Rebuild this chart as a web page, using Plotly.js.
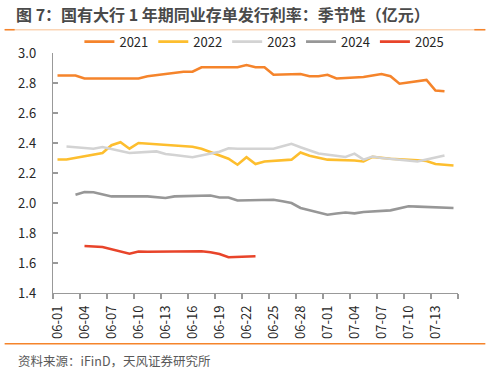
<!DOCTYPE html>
<html>
<head>
<meta charset="utf-8">
<script src="https://cdn.plot.ly/plotly-3.0.1.min.js"></script>
<style>html,body{margin:0;padding:0;background:#fff;}#chart{width:490px;height:372px;}</style>
</head>
<body>
<div id="chart"></div>
<script>
// Category labels (calendar days)
const dates = ["06-01","06-02","06-03","06-04","06-05","06-06","06-07","06-08","06-09","06-10",
  "06-11","06-12","06-13","06-14","06-15","06-16","06-17","06-18","06-19","06-20",
  "06-21","06-22","06-23","06-24","06-25","06-26","06-27","06-28","06-29","06-30",
  "07-01","07-02","07-03","07-04","07-05","07-06","07-07","07-08","07-09","07-10",
  "07-11","07-12","07-13","07-14","07-15"];

const y2021 = [2.85,2.85,2.85,2.83,null,null,2.83,2.83,2.83,2.83,
  2.845,null,null,null,2.875,2.875,2.905,2.905,null,null,
  2.905,2.92,2.905,2.905,2.855,null,null,2.86,2.845,2.845,
  2.855,2.83,null,null,2.84,2.85,2.86,2.845,2.795,null,
  null,2.82,2.75,2.745,null];

const y2022 = [2.29,2.29,null,null,null,2.333,2.385,2.405,2.362,2.40,
  null,null,2.39,2.385,2.383,2.375,2.362,null,null,2.295,
  2.255,2.305,2.26,2.277,null,null,2.289,2.337,2.315,2.30,
  2.289,null,null,2.283,2.277,2.307,2.30,2.295,null,null,
  2.285,2.28,2.26,2.255,2.25];

const y2023 = [null,2.377,null,null,2.362,2.373,2.36,2.345,2.333,null,
  null,2.344,2.327,2.32,2.313,2.305,null,null,2.342,2.365,
  2.362,null,null,null,2.362,2.378,2.395,2.372,2.35,2.33,
  null,null,2.307,2.329,2.289,2.31,2.30,null,null,2.285,
  2.277,2.29,2.303,2.317,null];

const y2024 = [null,null,2.055,2.073,2.072,2.058,2.044,null,null,null,
  2.044,2.038,2.033,2.044,null,null,2.045,2.05,2.037,2.037,
  2.017,null,null,2.02,2.022,2.012,2.0,1.967,null,null,
  1.922,1.93,1.937,1.931,1.94,null,null,1.951,1.965,1.978,
  1.976,1.973,null,null,1.967];

const y2025 = [null,null,null,1.713,1.71,1.707,null,null,1.662,1.677,
  1.675,1.675,1.676,null,null,1.68,1.678,1.672,1.66,1.638,
  null,null,1.645,null,null,null,null,null,null,null,
  null,null,null,null,null,null,null,null,null,null,
  null,null,null,null,null];

const seriesNames = ["2021","2022","2023","2024","2025"];
const seriesData = [y2021,y2022,y2023,y2024,y2025];
const seriesColors = ["#F5842B","#FDBE2E","#D3D3D3","#979797","#E8442A"];

const idx = dates.map((d,i)=>i);
const FONT = "Noto Sans CJK SC, Noto Sans, sans-serif";

const traces = seriesData.map((ys,k)=>({
  type:"scatter", mode:"lines", name:seriesNames[k],
  x: idx, y: ys, connectgaps:true,
  line:{color:seriesColors[k], width:2.6},
  xaxis:"x", yaxis:"y", hoverinfo:"skip"
}));

// Tick positions
const boundaryTicks = [];
for (let b=-0.5; b<=dates.length-0.5+1e-9; b+=3) boundaryTicks.push(b);
const labelTicks = [], labelText = [];
for (let i=0;i<dates.length;i+=3){ labelTicks.push(i); labelText.push(dates[i]); }

// Geometry
const W=490,H=372, mL=53.3, mR=32.3, mT=53.3, mB=78.7;
const pw = W-mL-mR, ph = H-mT-mB;
const px = v => (v-mL)/pw;
const py = v => (H-mB-v)/ph;

const layout = {
  width:W, height:H,
  margin:{l:mL,r:mR,t:mT,b:mB,pad:0},
  paper_bgcolor:"#fff", plot_bgcolor:"#fff",
  font:{family:FONT, size:13, color:"#262626"},
  showlegend:true,
  legend:{orientation:"h", x:0.522, xanchor:"center", y:py(42), yanchor:"middle",
    font:{size:13,color:"#262626"}, bgcolor:"rgba(0,0,0,0)", itemwidth:30},
  title:{text:"图 7：国有大行 1 年期同业存单发行利率：季节性（亿元）",
    xref:"container", x:16/W, xanchor:"left", yref:"container", y:1-15/H, yanchor:"middle",
    font:{family:FONT, size:16, color:"#4a4a4a", weight:"bold"}},
  xaxis:{range:[-0.5,dates.length-0.5], tickmode:"array", tickvals:boundaryTicks,
    showticklabels:false, ticks:"outside", ticklen:5, tickcolor:"#999", tickwidth:1.2,
    showline:true, linecolor:"#999", linewidth:1.3, showgrid:false, zeroline:false, fixedrange:true},
  xaxis2:{overlaying:"x", anchor:"y", side:"bottom", range:[-0.5,dates.length-0.5],
    tickmode:"array", tickvals:labelTicks, ticktext:labelText, tickangle:-90, ticks:"",
    showline:false, showgrid:false, zeroline:false, tickfont:{size:13,color:"#262626"},
    ticklabelstandoff:9},
  yaxis:{range:[1.4,3.0], dtick:0.2, tick0:1.4, tickformat:".1f", ticks:"inside", ticklen:5,
    tickcolor:"#999", tickwidth:1.2, showline:true, linecolor:"#999", linewidth:1.3,
    showgrid:false, zeroline:false, tickfont:{size:13,color:"#262626"}, ticklabelstandoff:13},
  shapes:[
    {type:"line", xref:"paper", yref:"paper", x0:px(5), x1:px(485), y0:py(30), y1:py(30),
      line:{color:"#FBD5B5", width:1.5}},
    {type:"line", xref:"paper", yref:"paper", x0:px(5), x1:px(15), y0:py(30), y1:py(30),
      line:{color:"#F5842B", width:1.5}},
    {type:"line", xref:"paper", yref:"paper", x0:px(474), x1:px(485), y0:py(30), y1:py(30),
      line:{color:"#F5842B", width:1.5}},
    {type:"line", xref:"paper", yref:"paper", x0:px(5), x1:px(485), y0:py(344), y1:py(344),
      line:{color:"#F5842B", width:1.5}}
  ],
  annotations:[
    {text:"资料来源：iFinD，天风证券研究所", xref:"paper", yref:"paper", x:px(16), y:py(361),
      xanchor:"left", yanchor:"middle", showarrow:false, font:{size:12.5,color:"#595959",family:FONT}}
  ]
};

// dummy trace to activate xaxis2
traces.push({type:"scatter", mode:"lines", x:[0], y:[null], xaxis:"x2", yaxis:"y",
  showlegend:false, hoverinfo:"skip"});

Plotly.newPlot("chart", traces, layout, {staticPlot:true, displayModeBar:false});
</script>
</body>
</html>
